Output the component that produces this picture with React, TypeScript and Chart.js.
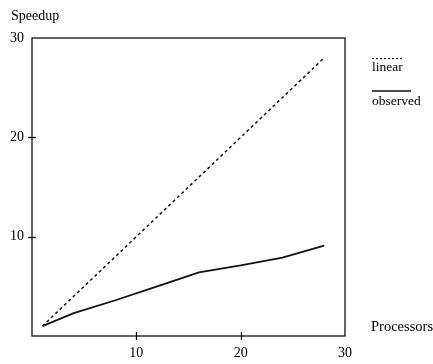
import React, { useEffect, useRef } from "react";
import { Chart, registerables } from "chart.js";

Chart.register(...registerables);

const processors = [1, 4, 8, 12, 16, 20, 24, 28];
const linearSpeedup = [1, 4, 8, 12, 16, 20, 24, 28];
const observedSpeedup = [1, 2.3, 3.6, 5.0, 6.4, 7.1, 7.9, 9.1];
const xTickValues = [10, 20, 30];
const yTickValues = [10, 20, 30];
const seriesLabels = ["linear", "observed"];
const xTitle = "Processors";
const yTitle = "Speedup";

const FONT = "'Liberation Serif', 'DejaVu Serif', serif";

const decorPlugin = {
  id: "decor",
  afterDatasetsDraw(chart: any) {
    const { ctx, chartArea } = chart;
    const xs = chart.scales.x;
    const ys = chart.scales.y;
    ctx.save();
    ctx.strokeStyle = "#111";
    ctx.lineWidth = 1.3;
    ctx.setLineDash([]);
    ctx.strokeRect(chartArea.left, chartArea.top, chartArea.right - chartArea.left, chartArea.bottom - chartArea.top);
    // crossing tick marks
    xTickValues.forEach((v) => {
      if (v >= xs.max) return;
      const px = Math.round(xs.getPixelForValue(v)) + 0.5;
      ctx.beginPath();
      ctx.moveTo(px, chartArea.bottom - 4);
      ctx.lineTo(px, chartArea.bottom + 4);
      ctx.stroke();
    });
    yTickValues.forEach((v) => {
      if (v >= ys.max) return;
      const py = Math.round(ys.getPixelForValue(v)) + 0.5;
      ctx.beginPath();
      ctx.moveTo(chartArea.left - 4, py);
      ctx.lineTo(chartArea.left + 4, py);
      ctx.stroke();
    });
    // titles
    ctx.fillStyle = "#000";
    ctx.font = `14px ${FONT}`;
    ctx.textBaseline = "middle";
    ctx.textAlign = "left";
    ctx.fillText(yTitle, 11, 16);
    ctx.font = `14.5px ${FONT}`;
    ctx.fillText(xTitle, chartArea.right + 26, chartArea.bottom - 9);
    // legend
    ctx.font = `13.5px ${FONT}`;
    const lx = chartArea.right + 27;
    ctx.lineWidth = 1.2;
    ctx.setLineDash([2, 2]);
    ctx.beginPath();
    ctx.moveTo(lx, 58.5);
    ctx.lineTo(lx + 30, 58.5);
    ctx.stroke();
    ctx.fillText(seriesLabels[0], lx, 67);
    ctx.setLineDash([]);
    ctx.lineWidth = 1.3;
    ctx.beginPath();
    ctx.moveTo(lx, 91);
    ctx.lineTo(lx + 39, 91);
    ctx.stroke();
    ctx.fillText(seriesLabels[1], lx, 101);
    ctx.restore();
  },
};

export default function App() {
  const ref = useRef<HTMLCanvasElement>(null);
  useEffect(() => {
    if (!ref.current) return;
    const chart = new Chart(ref.current, {
      type: "line",
      data: {
        datasets: [
          {
            label: seriesLabels[0],
            data: processors.map((p, i) => ({ x: p, y: linearSpeedup[i] })),
            borderColor: "#111",
            borderWidth: 1.5,
            borderDash: [3, 3],
            pointRadius: 0,
            tension: 0,
          },
          {
            label: seriesLabels[1],
            data: processors.map((p, i) => ({ x: p, y: observedSpeedup[i] })),
            borderColor: "#111",
            borderWidth: 1.8,
            pointRadius: 0,
            tension: 0,
          },
        ],
      },
      options: {
        responsive: false,
        animation: false,
        layout: { padding: { top: 38, right: 88, left: 0, bottom: 0 } },
        plugins: { legend: { display: false }, tooltip: { enabled: false } },
        scales: {
          x: {
            type: "linear",
            min: 0,
            max: 30,
            grid: { display: false, drawTicks: false },
            border: { display: false },
            afterFit: (s: any) => { s.height = 28; },
            ticks: {
              stepSize: 10,
              padding: 9,
              color: "#000",
              font: { family: FONT, size: 14 },
              callback: (v: any) => (xTickValues.includes(v) ? String(v) : ""),
            },
          },
          y: {
            type: "linear",
            min: 0,
            max: 30,
            grid: { display: false, drawTicks: false },
            border: { display: false },
            afterFit: (s: any) => { s.width = 32; },
            ticks: {
              stepSize: 10,
              padding: 8,
              color: "#000",
              font: { family: FONT, size: 14 },
              callback: (v: any) => (yTickValues.includes(v) ? String(v) : ""),
            },
          },
        },
      },
      plugins: [decorPlugin],
    });
    return () => chart.destroy();
  }, []);
  return (
    <div style={{ position: "fixed", left: 0, top: 0, width: 433, height: 364, background: "#fff" }}>
      <canvas ref={ref} width={433} height={364} style={{ display: "block" }} />
    </div>
  );
}
